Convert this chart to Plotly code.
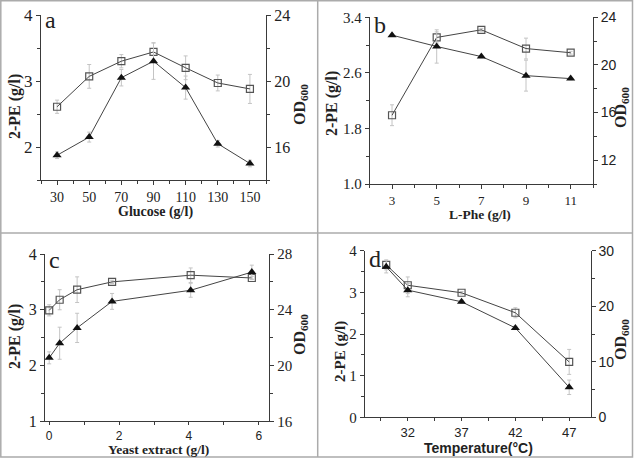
import plotly.graph_objects as go

# ---------------- data ----------------
glucose = [30, 50, 70, 90, 110, 130, 150]
a_pe = [2.61, 3.07, 3.30, 3.44, 3.20, 2.97, 2.88]
a_pe_err = [0.10, 0.18, 0.10, 0.14, 0.18, 0.12, 0.22]
a_od = [15.5, 16.6, 20.2, 21.2, 19.6, 16.2, 15.0]
a_od_err = [0.2, 0.3, 0.5, 1.1, 0.7, 0.2, 0.2]

lphe = [3, 5, 7, 9, 11]
b_pe = [1.99, 3.11, 3.22, 2.95, 2.89]
b_pe_err = [0.15, 0.08, 0.02, 0.15, 0.02]
b_od = [22.5, 21.55, 20.7, 19.1, 18.85]
b_od_err = [0.1, 1.4, 0.1, 1.3, 0.1]

yeast = [0, 0.3, 0.8, 1.8, 4.05, 5.8]
c_pe = [2.99, 3.18, 3.36, 3.50, 3.62, 3.57]
c_pe_err = [0.10, 0.18, 0.23, 0.03, 0.13, 0.03]
c_od = [20.55, 21.6, 22.7, 24.6, 25.4, 26.7]
c_od_err = [0.43, 1.15, 1.05, 0.57, 0.5, 0.5]

temp = [30, 32, 37, 42, 47]
d_pe = [3.66, 3.17, 2.99, 2.51, 1.33]
d_pe_err = [0.12, 0.2, 0.03, 0.12, 0.3]
d_od = [27.1, 22.9, 20.8, 16.1, 5.4]
d_od_err = [1.1, 1.2, 0.3, 0.3, 1.3]

panel_labels = ["a", "b", "c", "d"]
x_titles = ["Glucose (g/l)", "L-Phe (g/l)", "Yeast extract (g/l)", "Temperature(°C)"]
left_title = "2-PE (g/l)"
right_title = "OD<sub>600</sub>"

# ---------------- style ----------------
W, H = 637, 460
SERIF = "Liberation Serif"
SANS = "Liberation Sans"
AX = "#3a3a3a"
TXT = "#222222"
ERR = "#c4c4c4"
FRAME = "#ababab"

def px_x(p):
    return p / W

def px_y(p):
    return 1 - p / H

fig = go.Figure()

panels = [
    (glucose, a_pe, a_pe_err, a_od, a_od_err),
    (lphe, b_pe, b_pe_err, b_od, b_od_err),
    (yeast, c_pe, c_pe_err, c_od, c_od_err),
    (temp, d_pe, d_pe_err, d_od, d_od_err),
]

for i, (xs, pe, pe_e, od, od_e) in enumerate(panels):
    xa = "x" if i == 0 else f"x{i+1}"
    yl = "y" if i == 0 else f"y{2*i+1}"
    yr = f"y{2*i+2}"
    fig.add_trace(go.Scatter(
        x=xs, y=pe, xaxis=xa, yaxis=yl, mode="lines+markers",
        line=dict(color="#444444", width=1),
        marker=dict(symbol="square-open", size=7, color="#555555", line=dict(width=1.2)),
        error_y=dict(type="data", array=pe_e, visible=True, color=ERR, thickness=1, width=2),
        showlegend=False, cliponaxis=False,
    ))
    fig.add_trace(go.Scatter(
        x=xs, y=od, xaxis=xa, yaxis=yr, mode="lines+markers",
        line=dict(color="#444444", width=1),
        marker=dict(symbol="triangle-up", size=8, color="#111111"),
        error_y=dict(type="data", array=od_e, visible=True, color=ERR, thickness=1, width=2),
        showlegend=False, cliponaxis=False,
    ))

# panel geometry in pixels: (left, right, top, bottom)
geo = [
    (41, 266, 15, 180),
    (369.7, 593, 17.3, 184),
    (45, 269.3, 254, 421.3),
    (364.7, 590.7, 250.7, 417.3),
]

x_specs = [
    dict(range=[20, 160], tick0=30, dtick=20, minor=dict(tick0=20, dtick=10), font=SERIF, size=14, tl=4),
    dict(range=[2, 12], tick0=3, dtick=2, minor=dict(tick0=2, dtick=1), font=SERIF, size=13, tl=4),
    dict(range=[-0.12, 6.3], tick0=0, dtick=2, minor=dict(tick0=0, dtick=1), font=SANS, size=12, tl=3),
    dict(range=[28, 49], tick0=32, dtick=5, minor=dict(tick0=29.5, dtick=2.5), font=SANS, size=13, tl=3),
]
yl_specs = [
    dict(range=[1.5, 4], tick0=2, dtick=1, minor=dict(tick0=1.5, dtick=0.5), font=SERIF, size=17),
    dict(range=[1.0, 3.4], tick0=1.0, dtick=0.8, minor=dict(tick0=1.0, dtick=0.4), font=SERIF, size=15, fmt=".1f"),
    dict(range=[1, 4], tick0=1, dtick=1, minor=dict(tick0=1, dtick=0.5), font=SERIF, size=16),
    dict(range=[0, 4], tick0=0, dtick=1, minor=dict(tick0=0, dtick=0.5), font=SERIF, size=15),
]
yr_specs = [
    dict(range=[14, 24], tick0=16, dtick=4, minor=dict(tick0=14, dtick=2), font=SERIF, size=16),
    dict(range=[10, 24], tick0=12, dtick=4, minor=dict(tick0=10, dtick=2), font=SANS, size=14),
    dict(range=[16, 28], tick0=16, dtick=4, minor=dict(tick0=16, dtick=2), font=SERIF, size=15),
    dict(range=[0, 30], tick0=0, dtick=10, minor=dict(tick0=0, dtick=5), font=SANS, size=14),
]

layout = dict(
    width=W, height=H, margin=dict(l=0, r=0, t=0, b=0),
    paper_bgcolor="white", plot_bgcolor="white", showlegend=False,
)

def minor(m):
    return dict(tick0=m["tick0"], dtick=m["dtick"], ticks="outside", ticklen=3,
                tickcolor=AX, tickwidth=1)

common = dict(ticks="outside", tickcolor=AX, tickwidth=1,
              showline=True, linecolor=AX, linewidth=1, showgrid=False,
              zeroline=False, automargin=False, tickmode="linear")

for i in range(4):
    L, R, T, B = geo[i]
    xs = x_specs[i]
    xk = "xaxis" if i == 0 else f"xaxis{i+1}"
    ylk = "yaxis" if i == 0 else f"yaxis{2*i+1}"
    yrk = f"yaxis{2*i+2}"
    ya_name = "y" if i == 0 else f"y{2*i+1}"
    xa_name = "x" if i == 0 else f"x{i+1}"
    layout[xk] = dict(
        domain=[px_x(L), px_x(R)], anchor=ya_name, range=xs["range"],
        tick0=xs["tick0"], dtick=xs["dtick"], minor=minor(xs["minor"]), ticklen=xs["tl"],
        tickfont=dict(family=xs["font"], size=xs["size"], color=TXT), **common,
    )
    yl = yl_specs[i]
    layout[ylk] = dict(
        domain=[px_y(B), px_y(T)], anchor=xa_name, range=yl["range"],
        tick0=yl["tick0"], dtick=yl["dtick"], tickformat=yl.get("fmt", ""),
        minor=minor(yl["minor"]), ticklen=4,
        tickfont=dict(family=yl["font"], size=yl["size"], color=TXT), **common,
    )
    yr = yr_specs[i]
    layout[yrk] = dict(
        domain=[px_y(B), px_y(T)], anchor=xa_name, overlaying=ya_name, side="right",
        range=yr["range"], tick0=yr["tick0"], dtick=yr["dtick"],
        minor=minor(yr["minor"]), ticklen=4,
        tickfont=dict(family=yr["font"], size=yr["size"], color=TXT), **common,
    )

fig.update_layout(**layout)

def note(text, x, y, family, size, angle=0, bold=True):
    fig.add_annotation(text=text, xref="paper", yref="paper", x=px_x(x), y=px_y(y),
                       xanchor="center", yanchor="middle", showarrow=False,
                       textangle=angle, borderpad=0,
                       font=dict(family=family, size=size, color=TXT,
                                 weight="bold" if bold else "normal"))

# axis titles (centre positions in pixels)
left_pos = [(15, 107), (332, 104), (15, 337), (340, 352)]
right_pos = [(300, 105), (622, 108), (300, 335), (621, 340)]
xt_pos = [(155, 212), (480, 214), (158, 449), (478, 448)]
left_sizes = [16, 16, 16, 15]
for i in range(4):
    note(left_title, *left_pos[i], SERIF, left_sizes[i], angle=-90)
    note(right_title, *right_pos[i], SERIF, 16, angle=-90)
    if i == 3:
        note(x_titles[i], *xt_pos[i], SANS, 14)
    else:
        note(x_titles[i], *xt_pos[i], SERIF, 14 if i == 0 else 13.5)

# panel letters
letter_pos = [(43, 20), (372, 25), (47, 260), (367, 259)]
for lab, (lx, ly) in zip(panel_labels, letter_pos):
    fig.add_annotation(text=lab, xref="paper", yref="paper", x=px_x(lx), y=px_y(ly),
                       xanchor="left", yanchor="middle", showarrow=False,
                       font=dict(family=SERIF, size=24, color=TXT))

# frame lines
shapes = [
    dict(type="rect", xref="paper", yref="paper", x0=px_x(0.8), x1=px_x(632.5),
         y0=px_y(457), y1=px_y(0.8), line=dict(color=FRAME, width=1.5)),
    dict(type="line", xref="paper", yref="paper", x0=px_x(317.7), x1=px_x(317.7),
         y0=px_y(457), y1=px_y(0.8), line=dict(color=FRAME, width=1.5)),
    dict(type="line", xref="paper", yref="paper", x0=px_x(0.8), x1=px_x(632.5),
         y0=px_y(233), y1=px_y(233), line=dict(color=FRAME, width=1.5)),
]
fig.update_layout(shapes=shapes)

fig.write_html("out.html", config={"displayModeBar": False},
               post_script="document.body.style.margin='0';document.body.style.overflow='hidden';")
